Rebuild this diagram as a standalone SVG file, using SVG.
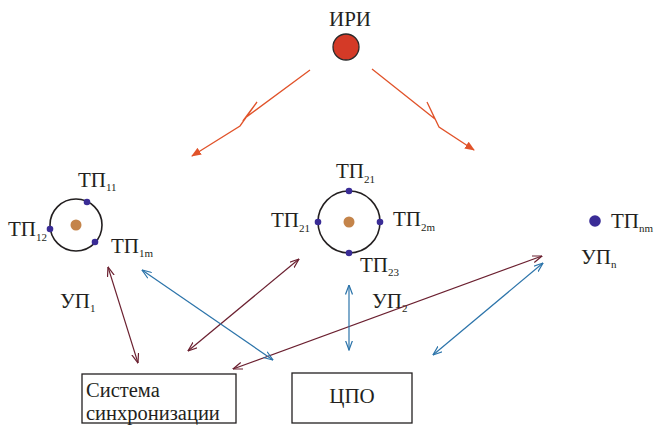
<svg xmlns="http://www.w3.org/2000/svg" width="654" height="427" viewBox="0 0 654 427" font-family="Liberation Serif">
  <style>
    text { font-size: 21px; fill: #231f20; }
    .sub { font-size: 11px; }
    .boxtext { font-size: 20.5px; }
    .orbit { fill: none; stroke: #231f20; stroke-width: 1.6; }
    .core { fill: #c4844a; }
    .tp { fill: #3a2c96; }
    .box { fill: #ffffff; stroke: #231f20; stroke-width: 1.3; }
    .bolt { fill: none; stroke: #e1532a; stroke-width: 1.3; stroke-linejoin: miter; stroke-miterlimit: 20; }
    .link-r { fill: none; stroke: #6b2030; stroke-width: 1.2; marker-start: url(#headR); marker-end: url(#headR); }
    .link-b { fill: none; stroke: #2c74aa; stroke-width: 1.2; marker-start: url(#headB); marker-end: url(#headB); }
  </style>
  <defs>
    <marker id="boltHead" viewBox="0 0 10 8" refX="9" refY="4" markerWidth="10" markerHeight="8" markerUnits="userSpaceOnUse" orient="auto">
      <path d="M0,0 L10,4 L0,8 Z" fill="#e1532a"/>
    </marker>
    <marker id="headR" viewBox="0 0 10 8" refX="9.5" refY="4" markerWidth="10" markerHeight="8" markerUnits="userSpaceOnUse" orient="auto-start-reverse">
      <path d="M0,0.5 L9.5,4 L0,7.5" fill="none" stroke="#6b2030" stroke-width="1.2"/>
    </marker>
    <marker id="headB" viewBox="0 0 10 8" refX="9.5" refY="4" markerWidth="10" markerHeight="8" markerUnits="userSpaceOnUse" orient="auto-start-reverse">
      <path d="M0,0.5 L9.5,4 L0,7.5" fill="none" stroke="#2c74aa" stroke-width="1.2"/>
    </marker>
  </defs>

  <!-- radiation source -->
  <g id="iri">
    <text x="350" y="26" text-anchor="middle">ИРИ</text>
    <circle cx="346" cy="47" r="13" fill="#d43a27" stroke="#2a2a2a" stroke-width="1.3"/>
  </g>

  <!-- receiving site 1 -->
  <g id="up1">
    <circle class="orbit" cx="76" cy="225" r="26"/>
    <circle class="core" cx="76" cy="225" r="5.5"/>
    <circle class="tp" cx="87" cy="202" r="3.3"/>
    <circle class="tp" cx="50" cy="229" r="3.3"/>
    <circle class="tp" cx="95" cy="242" r="3.3"/>
    <text x="78" y="187">ТП<tspan class="sub" dy="4">11</tspan></text>
    <text x="8" y="236">ТП<tspan class="sub" dy="5">12</tspan></text>
    <text x="111" y="253">ТП<tspan class="sub" dy="4">1m</tspan></text>
    <text x="60" y="308">УП<tspan class="sub" dy="4">1</tspan></text>
  </g>

  <!-- receiving site 2 -->
  <g id="up2">
    <circle class="orbit" cx="349" cy="222" r="31"/>
    <circle class="core" cx="349" cy="222" r="5.5"/>
    <circle class="tp" cx="349" cy="191" r="3.3"/>
    <circle class="tp" cx="318" cy="222" r="3.3"/>
    <circle class="tp" cx="380" cy="222" r="3.3"/>
    <circle class="tp" cx="349" cy="253" r="3.3"/>
    <text x="336" y="178">ТП<tspan class="sub" dy="5">21</tspan></text>
    <text x="271" y="227">ТП<tspan class="sub" dy="5">21</tspan></text>
    <text x="393" y="226">ТП<tspan class="sub" dy="5">2m</tspan></text>
    <text x="360" y="272">ТП<tspan class="sub" dy="4">23</tspan></text>
    <text x="372" y="308">УП<tspan class="sub" dy="4">2</tspan></text>
  </g>

  <!-- receiving site n -->
  <g id="upn">
    <circle class="tp" cx="595" cy="221" r="5.8"/>
    <text x="611" y="228">ТП<tspan class="sub" dy="4">nm</tspan></text>
    <text x="581" y="264">УП<tspan class="sub" dy="4">n</tspan></text>
  </g>

  <!-- synchronisation system -->
  <g id="sync">
    <rect class="box" x="82" y="374" width="154" height="49"/>
    <text class="boxtext" x="86" y="397">Система</text>
    <text class="boxtext" x="86" y="420">синхронизации</text>
  </g>

  <!-- central processing unit -->
  <g id="cpo">
    <rect class="box" x="292" y="373" width="120" height="50"/>
    <text x="352" y="403" text-anchor="middle">ЦПО</text>
  </g>

  <!-- connectors -->
  <g id="connectors">
    <polyline class="bolt" points="310,70 245,118 257,102 240,126 192,156" marker-end="url(#boltHead)"/>
    <polyline class="bolt" points="372,69 435,119 427,102 439,127 474,150" marker-end="url(#boltHead)"/>

    <line class="link-r" x1="108" y1="267" x2="138" y2="363"/>
    <line class="link-r" x1="188" y1="351" x2="299" y2="259"/>
    <line class="link-r" x1="233" y1="369" x2="542" y2="256"/>

    <line class="link-b" x1="142" y1="270" x2="273" y2="360"/>
    <line class="link-b" x1="349" y1="285" x2="349" y2="350"/>
    <line class="link-b" x1="433" y1="355" x2="543" y2="263"/>
  </g>
</svg>
